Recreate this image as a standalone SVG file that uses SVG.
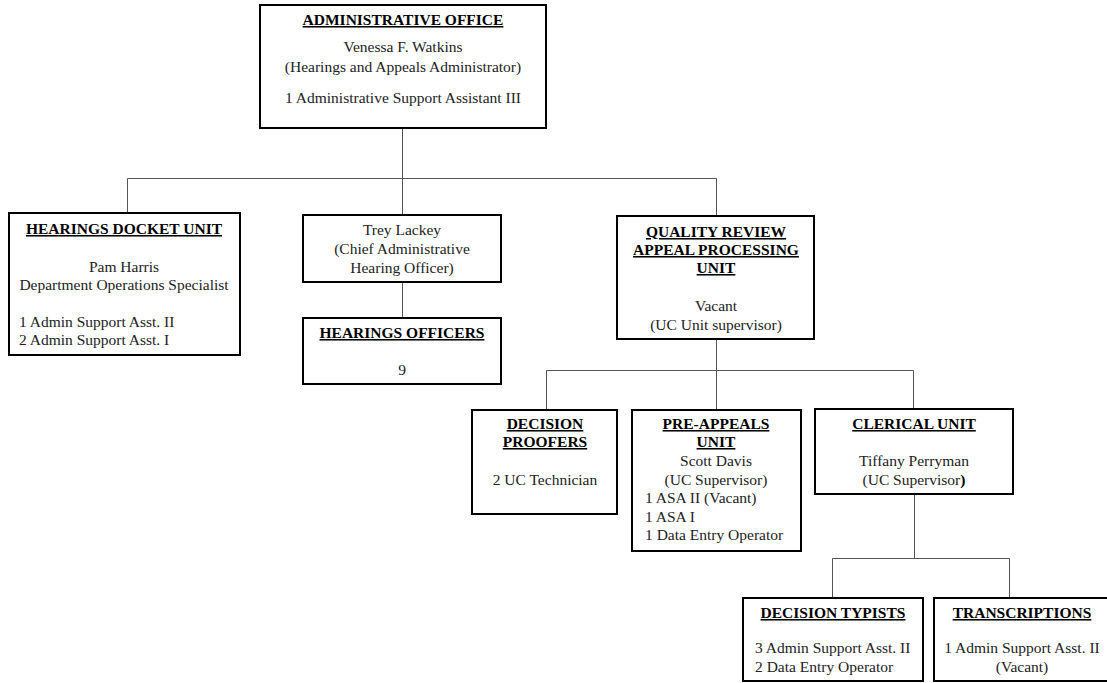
<svg xmlns="http://www.w3.org/2000/svg" width="1107" height="683" viewBox="0 0 1107 683">
<style>
  .box { fill: #ffffff; stroke: #000000; stroke-width: 2; }
  .conn { fill: none; stroke: #555555; stroke-width: 1; }
  text { font-family: "Liberation Serif", "Times New Roman", serif; font-size: 15.5px; fill: #222222; }
  .c { text-anchor: middle; }
  .h { font-weight: bold; text-decoration: underline; fill: #000000; }
</style>
<rect width="1107" height="683" fill="#ffffff"/>
<g id="connectors">
  <path class="conn" d="M402.5,128 V178.5 M127.5,178.5 H716.5 M127.5,178.5 V213 M402.5,178.5 V215 M716.5,178.5 V216"/>
  <path class="conn" d="M402.5,282 V318"/>
  <path class="conn" d="M716.5,339 V410 M546.5,370.5 H913.5 M546.5,370.5 V410 M913.5,370.5 V409"/>
  <path class="conn" d="M914.5,494 V558.5 M832.5,558.5 H1009.5 M832.5,558.5 V598 M1009.5,558.5 V598"/>
</g>
<g id="admin-office">
  <rect class="box" x="260" y="5" width="286" height="123"/>
  <text class="c h" x="403" y="25">ADMINISTRATIVE OFFICE</text>
  <text class="c" x="403" y="52">Venessa F. Watkins</text>
  <text class="c" x="403" y="72">(Hearings and Appeals Administrator)</text>
  <text class="c" x="403" y="103">1 Administrative Support Assistant III</text>
</g>
<g id="hearings-docket">
  <rect class="box" x="9" y="213" width="231" height="142"/>
  <text class="c h" x="124" y="234">HEARINGS DOCKET UNIT</text>
  <text class="c" x="124" y="272">Pam Harris</text>
  <text class="c" x="124" y="290">Department Operations Specialist</text>
  <text x="19" y="327">1 Admin Support Asst. II</text>
  <text x="19" y="345">2 Admin Support Asst. I</text>
</g>
<g id="trey-lackey">
  <rect class="box" x="303" y="215" width="198" height="67"/>
  <text class="c" x="402" y="235">Trey Lackey</text>
  <text class="c" x="402" y="254">(Chief Administrative</text>
  <text class="c" x="402" y="273">Hearing Officer)</text>
</g>
<g id="hearings-officers">
  <rect class="box" x="303" y="318" width="198" height="66"/>
  <text class="c h" x="402" y="338">HEARINGS OFFICERS</text>
  <text class="c" x="402" y="375">9</text>
</g>
<g id="quality-review">
  <rect class="box" x="617" y="216" width="197" height="123"/>
  <text class="c h" x="716" y="237">QUALITY REVIEW</text>
  <text class="c h" x="716" y="255">APPEAL PROCESSING</text>
  <text class="c h" x="716" y="273">UNIT</text>
  <text class="c" x="716" y="311">Vacant</text>
  <text class="c" x="716" y="330">(UC Unit supervisor)</text>
</g>
<g id="decision-proofers">
  <rect class="box" x="472" y="410" width="145" height="104"/>
  <text class="c h" x="545" y="429">DECISION</text>
  <text class="c h" x="545" y="447">PROOFERS</text>
  <text class="c" x="545" y="485">2 UC Technician</text>
</g>
<g id="pre-appeals">
  <rect class="box" x="632" y="410" width="169" height="141"/>
  <text class="c h" x="716" y="429">PRE-APPEALS</text>
  <text class="c h" x="716" y="447">UNIT</text>
  <text class="c" x="716" y="466">Scott Davis</text>
  <text class="c" x="716" y="485">(UC Supervisor)</text>
  <text x="645" y="503">1 ASA II (Vacant)</text>
  <text x="645" y="522">1 ASA I</text>
  <text x="645" y="540">1 Data Entry Operator</text>
</g>
<g id="clerical">
  <rect class="box" x="815" y="409" width="198" height="85"/>
  <text class="c h" x="914" y="429">CLERICAL UNIT</text>
  <text class="c" x="914" y="466">Tiffany Perryman</text>
  <text class="c" x="914" y="485">(UC Supervisor<tspan font-weight="bold" fill="#000000">)</tspan></text>
</g>
<g id="decision-typists">
  <rect class="box" x="743" y="598" width="180" height="83"/>
  <text class="c h" x="833" y="618">DECISION TYPISTS</text>
  <text x="755" y="653">3 Admin Support Asst. II</text>
  <text x="755" y="672">2 Data Entry Operator</text>
</g>
<g id="transcriptions">
  <rect class="box" x="934" y="598" width="180" height="83"/>
  <text class="c h" x="1022" y="618">TRANSCRIPTIONS</text>
  <text class="c" x="1022" y="653">1 Admin Support Asst. II</text>
  <text class="c" x="1022" y="672">(Vacant)</text>
</g>
</svg>
